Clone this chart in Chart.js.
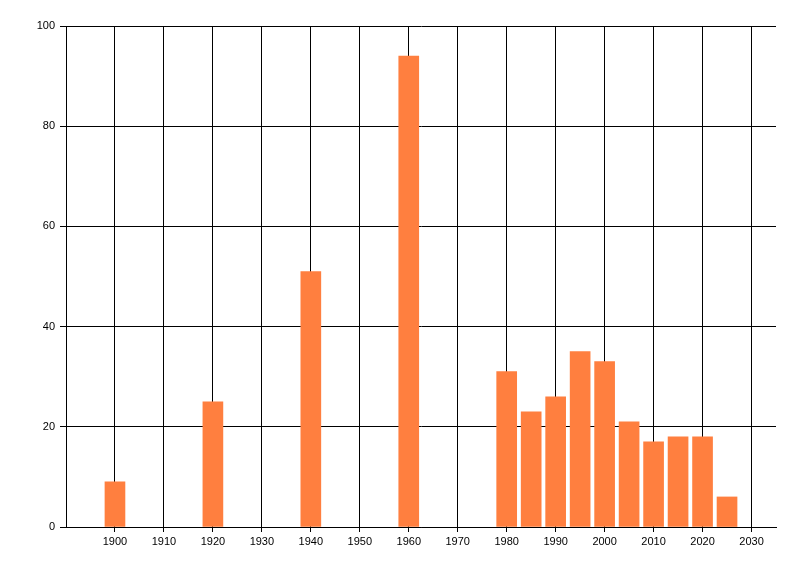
<!DOCTYPE html>
<html>
<head>
<meta charset="utf-8">
<script src="https://cdn.jsdelivr.net/npm/chart.js@4"></script>
<style>
    html, body { margin: 0; padding: 0; background: #fff; }
    #wrap { width: 800px; height: 576px; }
</style>
</head>
<body>
<div id="wrap"><canvas id="myChart"></canvas></div>
<script>
// data
const years = [1900, 1920, 1940, 1960, 1980, 1985, 1990, 1995, 2000, 2005, 2010, 2015, 2020, 2025];
const amounts = [9, 25, 51, 94, 31, 23, 26, 35, 33, 21, 17, 18, 18, 6];
const xTicks = [1900, 1910, 1920, 1930, 1940, 1950, 1960, 1970, 1980, 1990, 2000, 2010, 2020, 2030];
const yTicks = [0, 20, 40, 60, 80, 100];

const points = years.map((yr, i) => ({ x: yr, y: amounts[i] }));

Chart.defaults.font.family = "'Liberation Sans', Arial, sans-serif";
Chart.defaults.font.size = 11;
Chart.defaults.color = '#000';

const chart = document.getElementById("myChart");

const config = {
    type: "bar",
    data: {
        datasets: [{
            data: points,
            backgroundColor: '#ff7f3f',
            borderWidth: 0,
            barThickness: 20,
        }]
    },
    options: {
        responsive: true,
        maintainAspectRatio: false,
        animation: false,
        layout: {
            padding: { top: 26, right: 24, left: 0, bottom: 0 }
        },
        scales: {
            x: {
                type: 'linear',
                min: 1890,
                max: 2035,
                offset: false,
                // only the decade ticks, no tick at the left edge
                afterBuildTicks: (scale) => {
                    scale.ticks = xTicks.map(v => ({ value: v }));
                },
                afterFit: (scale) => { scale.height = 49; },
                grid: {
                    offset: false, // bar charts shift grid lines by default
                    color: '#000',
                    lineWidth: 1,
                    tickLength: 5,
                    drawTicks: true,
                },
                border: { display: true, color: '#000', width: 1 },
                ticks: {
                    padding: 3,
                    maxRotation: 0,
                    autoSkip: false,
                    callback: (v) => String(v),
                }
            },
            y: {
                min: 0,
                max: 100,
                afterBuildTicks: (scale) => {
                    scale.ticks = yTicks.map(v => ({ value: v }));
                },
                afterFit: (scale) => { scale.width = 66; },
                grid: {
                    color: '#000',
                    lineWidth: 1,
                    tickLength: 6,
                },
                border: { display: true, color: '#000', width: 1 },
                ticks: {
                    padding: 5,
                    callback: (v) => String(v),
                }
            }
        },
        plugins: {
            legend: { display: false },
            tooltip: { enabled: false }
        }
    }
};

const myChart = new Chart(chart, config);
</script>
</body>
</html>
